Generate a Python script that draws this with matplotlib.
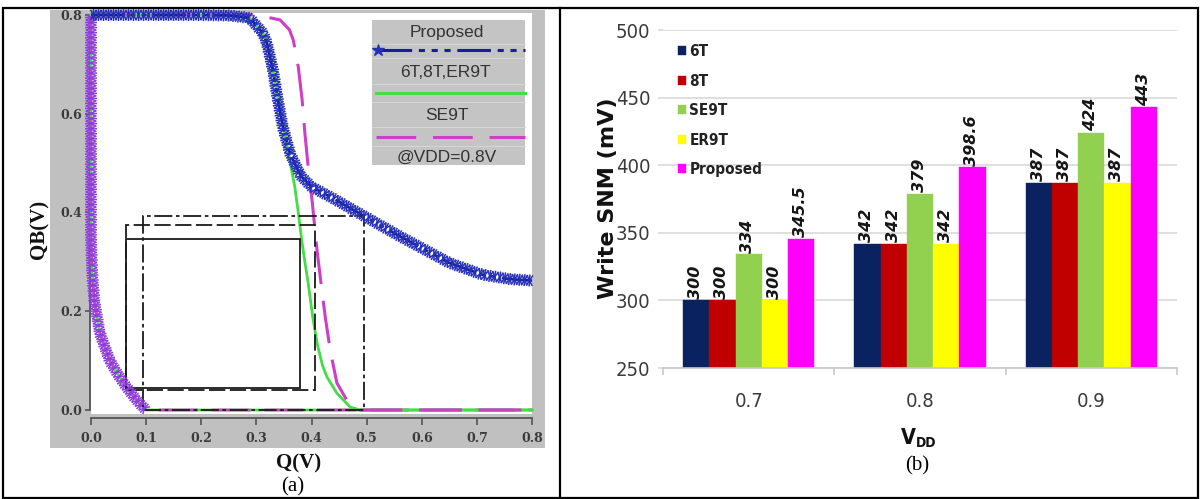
import numpy as np
import matplotlib
matplotlib.use('Agg')
import matplotlib.pyplot as plt
from matplotlib import patheffects as pe
from matplotlib import font_manager as fm
from matplotlib.patches import Rectangle
from matplotlib.lines import Line2D

W, H = 1201, 499

# ---------------- data (a): butterfly curves ----------------
prop_q = [0.0, 0.10, 0.20, 0.25, 0.288, 0.312, 0.319, 0.330, 0.339, 0.348, 0.361,
          0.380, 0.400, 0.440, 0.495, 0.560, 0.650, 0.710, 0.760, 0.800]
prop_qb = [0.8, 0.8, 0.8, 0.799, 0.794, 0.763, 0.743, 0.689, 0.628, 0.573, 0.520,
           0.475, 0.452, 0.428, 0.393, 0.352, 0.298, 0.274, 0.265, 0.262]

green_q = [0.0, 0.10, 0.20, 0.25, 0.288, 0.312, 0.319, 0.330, 0.340, 0.350, 0.360,
           0.370, 0.376, 0.382, 0.388, 0.394, 0.402, 0.410, 0.420, 0.428, 0.446,
           0.470, 0.488, 0.600, 0.800]
green_qb = [0.8, 0.8, 0.8, 0.799, 0.794, 0.763, 0.743, 0.689, 0.628, 0.570, 0.510,
            0.450, 0.400, 0.346, 0.300, 0.257, 0.190, 0.136, 0.090, 0.067, 0.034,
            0.006, 0.0, 0.0, 0.0]

se9t_q = [0.0, 0.10, 0.20, 0.30, 0.343, 0.360, 0.367, 0.376, 0.383, 0.388, 0.394,
          0.401, 0.407, 0.410, 0.418, 0.425, 0.434, 0.446, 0.464, 0.488, 0.600, 0.800]
se9t_qb = [0.8, 0.8, 0.8, 0.8, 0.790, 0.770, 0.749, 0.695, 0.628, 0.561, 0.492,
           0.425, 0.358, 0.324, 0.250, 0.188, 0.121, 0.055, 0.020, 0.0, 0.0, 0.0]

# second (mirrored) inverter branch, common to all cells
mir_q = [0.0, 0.0, 0.0, 0.002, 0.006, 0.016, 0.034, 0.050, 0.062, 0.077, 0.089,
         0.100, 0.300, 0.500, 0.800]
mir_qb = [0.8, 0.5, 0.35, 0.28, 0.22, 0.156, 0.100, 0.070, 0.050, 0.028, 0.012,
          0.0, 0.0, 0.0, 0.0]
mir_star_end = 12   # stars are drawn on the curved part only (up to Q = 0.1)

# largest embedded squares (q0, qb0, q1, qb1)
sq_solid = (0.063, 0.045, 0.379, 0.346)
sq_dashed = (0.063, 0.041, 0.406, 0.375)
sq_dashdot = (0.094, 0.0, 0.495, 0.393)

q_ticks = [0.0, 0.1, 0.2, 0.3, 0.4, 0.5, 0.6, 0.7, 0.8]
qb_ticks = [0.0, 0.2, 0.4, 0.6, 0.8]

# ---------------- data (b): write SNM ----------------
vdd_labels = ['0.7', '0.8', '0.9']
cells = ['6T', '8T', 'SE9T', 'ER9T', 'Proposed']
snm_6t = [300, 342, 387]
snm_8t = [300, 342, 387]
snm_se9t = [334, 379, 424]
snm_er9t = [300, 342, 387]
snm_prop = [345.5, 398.6, 443]
snm_ticks = [250, 300, 350, 400, 450, 500]


# ---------------- fonts ----------------
def narrow_font(bold, size):
    entries = fm.fontManager.ttflist
    prefs = ['LiberationSansNarrow', 'DejaVuSansCondensed', 'Condensed', 'Narrow']
    for key in prefs:
        for f in entries:
            base = f.fname.split('/')[-1]
            if key not in base:
                continue
            if 'Italic' in base or 'Oblique' in base:
                continue
            isbold = 'Bold' in base
            if isbold == bold:
                return fm.FontProperties(fname=f.fname, size=size)
    return fm.FontProperties(family='Roboto', weight='bold' if bold else 'normal',
                             size=size * 0.92)


C_BLUE = '#141ea0'
C_STAR = '#2630b8'
C_GREEN = '#45dc45'
C_MAG = '#cc3fc6'
C_PURP = '#8a40dc'
bar_colors = ['#0a2260', '#c00000', '#92d050', '#ffff00', '#ff00ff']


def frac(x0, y0, x1, y1):
    return [x0 / W, 1 - y1 / H, (x1 - x0) / W, (y1 - y0) / H]


def star_fx(spacing=3.6, length=1.05):
    return [pe.TickedStroke(spacing=spacing, angle=a, length=length)
            for a in (60, 120, -60, -120, 90, -90)]


fig = plt.figure(figsize=(W / 100, H / 100), dpi=100)

# background / table
bg = fig.add_axes([0, 0, 1, 1], zorder=0)
bg.set_xlim(0, W)
bg.set_ylim(H, 0)
bg.axis('off')
bg.add_patch(Rectangle((50, 10), 495, 438, color='#c0c0c0', lw=0))
bg.add_patch(Rectangle((2.5, 7.5), 1195, 490, fill=False, ec='black', lw=1.6))
bg.plot([560, 560], [7.5, 497.5], color='black', lw=1.6)

# ---------------- panel (a) ----------------
ax1 = fig.add_axes(frac(91, 13, 532, 414), zorder=1)
ax1.set_facecolor('white')
ax1.set_xlim(0, 0.8)
ax1.set_ylim(-0.0081, 0.804)

for sq, ls in ((sq_solid, '-'), (sq_dashed, (0, (9, 2.5))), (sq_dashdot, (0, (10, 2, 2, 2)))):
    ax1.add_patch(Rectangle((sq[0], sq[1]), sq[2] - sq[0], sq[3] - sq[1], fill=False,
                            ec='#1a1a1a', lw=1.3, ls=ls, zorder=3.5, clip_on=False))

ax1.plot(mir_q, mir_qb, color=C_GREEN, lw=2, zorder=3, clip_on=False)
ax1.plot(mir_q, mir_qb, color=C_MAG, lw=2, dashes=(14, 5), zorder=3, clip_on=False)
ax1.plot(mir_q[:mir_star_end], mir_qb[:mir_star_end], color=C_PURP, lw=1.1, zorder=4,
         clip_on=False, path_effects=star_fx())

ax1.plot(green_q, green_qb, color=C_GREEN, lw=2, zorder=3, clip_on=False)
ax1.plot(se9t_q, se9t_qb, color=C_MAG, lw=2.2, dashes=(14, 5.5), zorder=3, clip_on=False)
ax1.plot(prop_q, prop_qb, color=C_BLUE, lw=2, dashes=(12, 2.2, 1.8, 2.2, 1.8, 2.2),
         zorder=4, clip_on=False)
ax1.plot(prop_q, prop_qb, color=C_STAR, lw=1.1, zorder=5, clip_on=False,
         path_effects=star_fx())

for s in ('top', 'right'):
    ax1.spines[s].set_visible(False)
ax1.spines['left'].set_position(('outward', 1))
ax1.spines['bottom'].set_position(('outward', 3))
ax1.spines['left'].set_bounds(0, 0.8)
ax1.spines['bottom'].set_bounds(0, 0.8)
for s in ('left', 'bottom'):
    ax1.spines[s].set_color('#555555')
    ax1.spines[s].set_linewidth(1.3)
ax1.set_xticks(q_ticks)
ax1.set_xticklabels([f'{v:.1f}' for v in q_ticks])
ax1.set_yticks(qb_ticks)
ax1.set_yticklabels([f'{v:.1f}' for v in qb_ticks])
ax1.tick_params(axis='both', colors='#555555', labelcolor='#3a3a3a', width=1.2,
                labelsize=9)
ax1.tick_params(axis='x', length=5, pad=5)
ax1.tick_params(axis='y', length=3.5, pad=2)
for lab in ax1.get_xticklabels() + ax1.get_yticklabels():
    lab.set_fontfamily('DejaVu Serif')
    lab.set_fontweight('bold')

bg.text(39, 229, 'QB(V)', rotation=90, ha='center', va='center',
        fontfamily='Liberation Serif', fontweight='bold', fontsize=15, color='#111111')
bg.text(299, 463, 'Q(V)', ha='center', va='center',
        fontfamily='Liberation Serif', fontweight='bold', fontsize=15, color='#111111')
bg.text(293, 487, '(a)', ha='center', va='center',
        fontfamily='Liberation Serif', fontsize=15, color='black')

# ---------------- panel (b) ----------------
ax2 = fig.add_axes(frac(663, 30, 1177, 368), zorder=1)
ax2.set_xlim(-0.5, 2.5)
ax2.set_ylim(250, 500)
x = np.arange(len(vdd_labels))
width = 0.1535
series = [snm_6t, snm_8t, snm_se9t, snm_er9t, snm_prop]
handles = []
for i, (vals, col, name) in enumerate(zip(series, bar_colors, cells)):
    xs = x + (i - 2) * width
    b = ax2.bar(xs, vals, width, color=col, edgecolor=col, lw=0.3, zorder=2, label=name)
    handles.append(b)
    for xv, v in zip(xs, vals):
        ax2.annotate(f'{v:g}', (xv, v), xytext=(-0.5, 1.0), textcoords='offset points',
                     rotation=90, ha='center', va='bottom', fontsize=11.5,
                     fontfamily='DejaVu Sans', fontweight='bold', fontstyle='italic',
                     color='#151515', zorder=3)

tick_fp = narrow_font(False, 14.5)
ax2.set_yticks(snm_ticks)
ax2.set_yticklabels([str(t) for t in snm_ticks])
ax2.yaxis.grid(True, color='#d9d9d9', lw=1.2)
ax2.set_axisbelow(True)
for s in ('top', 'right', 'left'):
    ax2.spines[s].set_visible(False)
ax2.spines['bottom'].set_color('#c8c8c8')
ax2.spines['bottom'].set_linewidth(1.2)
ax2.tick_params(axis='y', length=3.6, color='#d9d9d9', width=1.2, pad=5.5,
                labelcolor='#3a3a3a')
ax2.set_xticks([-0.5, 0.5, 1.5, 2.5])
ax2.set_xticklabels(['', '', '', ''])
ax2.set_xticks(x, minor=True)
ax2.set_xticklabels(vdd_labels, minor=True)
ax2.tick_params(axis='x', which='major', length=5, color='#c8c8c8', width=1.2)
ax2.tick_params(axis='x', which='minor', length=0, pad=17, labelcolor='#3a3a3a')
for lab in ax2.get_yticklabels() + ax2.get_xticklabels(minor=True):
    lab.set_fontproperties(tick_fp)

leg_fp = narrow_font(True, 11)
leg = ax2.legend(handles=handles, labels=cells, loc='upper left',
                 bbox_to_anchor=(0.029, 0.958), frameon=False, borderpad=0,
                 borderaxespad=0, handlelength=0.5, handleheight=0.5,
                 handletextpad=0.25, labelspacing=0.95, prop=leg_fp)
for t in leg.get_texts():
    t.set_color('#222222')

# ---------------- overlay: legend (a), labels (b) ----------------
fg = fig.add_axes([0, 0, 1, 1], zorder=3)
fg.set_xlim(0, W)
fg.set_ylim(H, 0)
fg.axis('off')
fg.patch.set_alpha(0)

fg.add_patch(Rectangle((372, 20), 153, 145, color='#c4c4c4', lw=0))
for y in (44, 58, 84, 102, 127, 146):
    fg.plot([372, 525], [y, y], color='#d6d6d6', lw=0.8)
leg_txt_kw = dict(ha='center', va='center', fontfamily='Liberation Sans',
                  fontsize=12.5, color='#333333')
fg.text(447, 32, 'Proposed', **leg_txt_kw)
fg.text(445, 72, '6T,8T,ER9T', **leg_txt_kw)
fg.text(447, 115, 'SE9T', **leg_txt_kw)
fg.text(447, 157, '@VDD=0.8V', **leg_txt_kw)
fg.add_line(Line2D([378, 525], [50, 50], color=C_BLUE, lw=2.2,
                   dashes=(11, 2.2, 2, 2.2, 2, 2.2, 2, 2.2)))
fg.plot([378], [50], marker='*', ms=9, color=C_STAR)
fg.add_line(Line2D([376, 525], [93, 93], color=C_GREEN, lw=2.2))
fg.add_line(Line2D([376, 525], [137, 137], color=C_MAG, lw=2.2, dashes=(13, 5.5)))

fg.text(608, 198, 'Write SNM (mV)', rotation=90, ha='center', va='center',
        fontfamily='DejaVu Sans', fontweight='bold', fontsize=16, color='#111111')
vfp = narrow_font(True, 15.5)
dfp = narrow_font(True, 10)
fg.text(916, 438, 'V', ha='right', va='center', fontproperties=vfp, color='#111111')
fg.text(916, 443, 'DD', ha='left', va='center', fontproperties=dfp, color='#111111')
fg.text(917, 466, '(b)', ha='center', va='center', fontfamily='Liberation Serif',
        fontsize=15, color='black')

fig.savefig('out.png', dpi=100)
